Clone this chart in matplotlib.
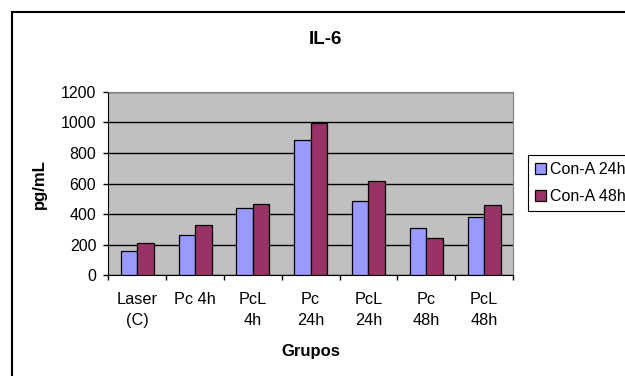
import matplotlib
matplotlib.use('Agg')
import matplotlib.pyplot as plt
import numpy as np
from matplotlib.patches import Rectangle

# dados
grupos = ['Laser\n(C)', 'Pc 4h', 'PcL\n4h', 'Pc\n24h', 'PcL\n24h', 'Pc\n48h', 'PcL\n48h']
con_a_24h = [163, 263, 441, 883, 485, 307, 383]
con_a_48h = [211, 330, 467, 998, 620, 248, 459]
series = ['Con-A 24h', 'Con-A 48h']
yticks = [0, 200, 400, 600, 800, 1000, 1200]

plt.rcParams['font.family'] = ['Liberation Sans', 'DejaVu Sans']

fig = plt.figure(figsize=(6.25, 3.76), dpi=100)
ax = fig.add_axes([0.1733, 0.2673, 0.6475, 0.4888])
ax.set_facecolor('#C0C0C0')

x = np.arange(len(grupos))
w = 0.2857
ax.bar(x - w / 2, con_a_24h, w, color='#9999FF', edgecolor='black', linewidth=0.9,
       label=series[0], zorder=3)
ax.bar(x + w / 2, con_a_48h, w, color='#993366', edgecolor='black', linewidth=0.9,
       label=series[1], zorder=3)

ax.set_xlim(-0.5, len(grupos) - 0.5)
ax.set_ylim(0, 1200)
ax.set_yticks(yticks)
ax.yaxis.grid(True, color='black', linewidth=1.0, zorder=1)
ax.set_axisbelow(True)

# ticks nas fronteiras, rótulos no centro
ax.set_xticks(np.arange(len(grupos) + 1) - 0.5)
ax.set_xticklabels([])
ax.set_xticks(x, minor=True)
ax.set_xticklabels(grupos, minor=True, fontsize=11.7, linespacing=1.5)
ax.tick_params(axis='x', which='major', direction='out', length=3.6, width=1)
ax.tick_params(axis='x', which='minor', length=0, pad=12)
ax.tick_params(axis='y', direction='out', length=3.6, width=1, labelsize=11.5, pad=5)

for s in ['top', 'right']:
    ax.spines[s].set_color('#808080')
for s in ['left', 'bottom']:
    ax.spines[s].set_color('black')

ax.set_xlabel('Grupos', fontsize=12, fontweight='bold', va='center')
ax.xaxis.set_label_coords(0.5, -0.416)
ax.set_ylabel('pg/mL', fontsize=12, fontweight='bold', va='center')
ax.yaxis.set_label_coords(-0.169, 0.5)

fig.text(0.52, 0.894, 'IL-6', fontsize=13.5, fontweight='bold', ha='center', va='center')

leg = ax.legend(loc='center left', bbox_to_anchor=(0.845, 0.513),
                bbox_transform=fig.transFigure, fontsize=11.5, frameon=True,
                fancybox=False, edgecolor='black', framealpha=1, labelspacing=0.75,
                handlelength=0.65, handleheight=0.65, handletextpad=0.3,
                borderpad=0.45, borderaxespad=0)
leg.get_frame().set_linewidth(0.8)

# moldura do gráfico
fig.patches.append(Rectangle((12 / 625, -0.1), 1.2, (376 - 12) / 376 + 0.1,
                             transform=fig.transFigure, fill=False,
                             edgecolor='black', linewidth=1.5))

plt.savefig('out.png', dpi=100)
